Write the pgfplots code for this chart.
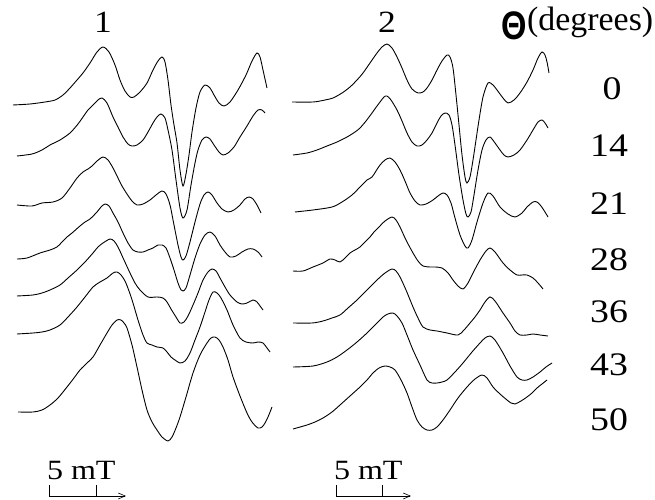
\documentclass[border=0pt]{standalone}
\usepackage{fontspec}
\setmainfont{Liberation Serif}
\newfontfamily\wide{Liberation Serif}[FakeStretch=1.15]
\newfontfamily\thetafont{Liberation Sans Bold}[FakeStretch=0.82]
\usepackage{pgfplots}
\pgfplotsset{compat=1.18}
\usetikzlibrary{arrows.meta}

\pgfplotsset{trace/.style={black,line width=0.9pt,smooth,tension=0.5,no markers}}

\begin{document}
\begin{tikzpicture}
\begin{axis}[width=655bp,height=500bp,scale only axis,
  xmin=0,xmax=655,ymin=0,ymax=500,y dir=reverse,
  hide axis,clip=false]
\addplot[draw=none] coordinates {(0,0) (655,500)};

% ---- panel 1 ----
% 0
\addplot[trace] coordinates {
(13,105) (30,104) (45,102) (55,100) (63,95) (70,88) (77,80) (83,73) (90,63) (97,52) (103,47)
(109,52) (115,65) (120,80) (125,91) (130,97) (134,97) (140,92) (147,83) (153,70) (158,61)
(162,57) (165,62) (168,80) (171,105) (174,125) (177,143) (180,170) (183,186) (186,174)
(189,155) (192,132) (196,108) (200,92) (205,85) (210,88) (214,95) (219,103) (224,106)
(230,102) (238,90) (246,75) (252,61) (257,53) (260,57) (263,70) (267,88)};
% 14
\addplot[trace] coordinates {
(17,156) (32,154) (42,150) (50,145) (60,140) (70,133) (78,124) (83,117) (88,110) (93,105)
(98,100) (102,98) (107,103) (113,117) (118,127) (123,137) (128,144) (132,146) (137,145)
(143,140) (148,132) (153,123) (157,117) (161,114) (165,118) (168,130) (172,150) (176,180)
(180,208) (183,218) (187,210) (191,185) (195,163) (198,150) (202,140) (206,137) (210,139)
(214,145) (219,152) (223,155) (228,153) (234,147) (240,137) (247,126) (253,116) (258,110)
(262,110) (265,113)};
% 21
\addplot[trace] coordinates {
(17,205) (32,206) (42,203) (53,202) (62,198) (70,188) (77,178) (83,172) (88,169) (92,166)
(97,161) (103,157) (108,160) (113,168) (118,178) (122,186) (127,194) (132,201) (137,205)
(143,204) (150,200) (156,195) (162,191) (166,194) (170,205) (174,225) (178,245) (181,257)
(183,260) (186,256) (190,242) (195,222) (200,204) (204,195) (208,192) (212,195) (217,203)
(222,209) (228,212) (234,210) (240,205) (245,199) (249,197) (253,199) (257,205) (261,213)};
% 28
\addplot[trace] coordinates {
(17,259) (27,258) (40,253) (50,250) (57,247) (62,242) (67,237) (72,233) (80,226) (85,222)
(90,219) (97,212) (101,207) (105,204) (109,206) (113,213) (118,222) (123,233) (128,243)
(133,250) (138,252) (143,252) (148,250) (153,248) (158,245) (162,245) (166,248) (170,258)
(174,270) (178,283) (181,290) (183,291) (186,288) (190,275) (195,258) (200,244) (205,235)
(210,232) (215,236) (220,245) (225,252) (230,257) (236,256) (242,252) (248,249) (253,249)
(258,252) (262,257)};
% 36
\addplot[trace] coordinates {
(17,296) (33,295) (42,293) (50,290) (60,285) (68,278) (77,270) (85,262) (93,253) (98,247)
(103,243) (110,239) (114,241) (118,247) (124,260) (130,273) (135,283) (140,290) (148,297)
(157,297) (163,298) (167,302) (171,309) (176,317) (180,323) (184,322) (188,316) (193,305)
(198,293) (203,280) (208,272) (212,269) (216,271) (220,278) (225,287) (230,295) (237,302)
(242,304) (247,303) (253,300) (257,302) (260,306) (263,310)};
% 43
\addplot[trace] coordinates {
(17,334) (33,333) (42,332) (50,330) (60,325) (68,317) (77,307) (85,297) (93,287) (100,282)
(107,278) (113,273) (117,272) (121,275) (125,281) (129,291) (133,303) (138,320) (143,335)
(147,343) (152,345) (157,347) (163,348) (167,352) (171,357) (175,360) (180,363) (185,361)
(190,353) (195,340) (200,327) (205,312) (209,300) (213,292) (217,293) (221,298) (227,310)
(233,325) (240,338) (246,342) (253,343) (258,342) (263,343) (267,348) (270,352)};
% 50
\addplot[trace] coordinates {
(18,412) (33,412) (42,410) (50,405) (58,398) (67,387) (74,378) (80,370) (87,363) (93,357)
(100,345) (107,333) (112,325) (117,320) (121,320) (124,323) (127,328) (132,345) (137,367)
(142,390) (147,410) (152,422) (157,430) (162,437) (168,441) (172,437) (176,428) (180,417)
(186,397) (193,373) (200,355) (207,343) (211,338) (215,337) (219,340) (223,347) (228,360)
(233,377) (240,396) (247,413) (252,422) (258,428) (262,427) (265,423) (268,417) (272,407)};

% ---- panel 2 ----
% 0
\addplot[trace] coordinates {
(292,102) (313,102) (325,100) (333,98) (342,93) (350,87) (357,80) (363,73) (370,63) (377,53)
(382,47) (387,44) (392,48) (397,57) (402,68) (407,80) (412,89) (418,93) (423,92) (427,88)
(432,80) (437,70) (442,61) (447,55) (450,57) (453,68) (456,95) (459,125) (462,155) (465,177)
(467,183) (470,177) (473,160) (476,140) (479,120) (483,97) (488,83) (493,85) (497,90)
(503,98) (508,103) (514,100) (520,93) (527,82) (533,70) (538,58) (542,52) (545,55) (547,62)
(549,73)};
% 14
\addplot[trace] coordinates {
(293,155) (307,153) (317,150) (327,146) (337,142) (347,137) (355,132) (360,128) (366,121)
(372,113) (377,106) (380,102) (384,97) (387,96) (391,100) (397,110) (402,121) (407,133)
(412,142) (417,146) (422,145) (427,140) (432,133) (437,123) (441,116) (445,113) (449,115)
(452,125) (455,145) (459,175) (463,200) (466,214) (468,217) (471,212) (474,195) (478,170)
(482,150) (486,140) (490,137) (495,143) (500,150) (504,155) (508,157) (514,155) (520,150)
(527,140) (533,130) (538,122) (542,120) (545,123) (548,128)};
% 21
\addplot[trace] coordinates {
(295,212) (313,210) (332,207) (342,202) (352,195) (360,187) (364,183) (367,180) (372,177)
(376,171) (380,165) (385,160) (390,158) (395,162) (400,170) (405,181) (410,193) (415,201)
(420,205) (426,204) (433,200) (438,196) (443,193) (447,195) (451,203) (455,218) (460,235)
(465,246) (468,248) (472,240) (477,222) (483,203) (488,193) (493,196) (500,207) (508,214)
(515,217) (522,213) (527,207) (533,202) (537,202) (541,206) (545,212) (548,217)};
% 28
\addplot[trace] coordinates {
(293,271) (303,271) (313,267) (323,263) (330,259) (335,260) (340,262) (345,258) (350,253)
(355,250) (360,247) (365,242) (370,237) (374,232) (378,228) (385,221) (392,217) (396,220)
(400,227) (406,240) (413,253) (418,261) (423,266) (430,267) (435,267) (442,268) (448,273)
(453,280) (458,286) (463,289) (468,283) (473,273) (480,260) (486,251) (490,248) (495,252)
(503,263) (510,270) (517,275) (522,275) (527,275) (533,278) (538,283) (543,289)};
% 36
\addplot[trace] coordinates {
(293,323) (312,323) (323,321) (332,318) (340,315) (348,308) (357,300) (367,290) (377,280)
(385,273) (392,269) (396,271) (400,277) (406,290) (413,307) (418,318) (423,327) (430,330)
(437,331) (447,333) (458,335) (464,330) (470,323) (475,317) (480,310) (485,302) (490,297)
(495,301) (503,313) (510,323) (515,331) (520,335) (527,335) (533,334) (540,335) (548,336)};
% 43
\addplot[trace] coordinates {
(293,367) (313,366) (327,362) (337,357) (347,350) (357,342) (367,333) (375,325) (383,317)
(388,314) (393,313) (397,316) (402,323) (407,335) (413,350) (420,365) (427,380) (432,383)
(437,383) (442,382) (447,380) (455,372) (463,363) (472,352) (480,343) (485,338) (490,336)
(495,340) (503,353) (510,366) (517,377) (522,380) (527,380) (533,377) (540,372) (546,367)
(552,363)};
% 50
\addplot[trace] coordinates {
(293,429) (307,425) (315,422) (323,418) (332,412) (340,405) (350,396) (360,387) (367,380)
(373,373) (379,368) (385,366) (390,367) (395,370) (401,380) (407,393) (412,407) (417,420)
(422,427) (427,430) (432,430) (437,427) (443,420) (450,410) (458,398) (467,387) (475,379)
(482,375) (487,378) (493,387) (500,394) (507,400) (511,403) (515,404) (521,401) (527,397)
(532,393) (537,388) (542,384) (547,380)};

% scale bars (5 mT)
\addplot[black,line width=0.6pt,-{Straight Barb[length=7pt,width=6pt]}] coordinates {(49,496) (126,496)};
\addplot[black,line width=0.6pt] coordinates {(49,485) (49,496)};
\addplot[black,line width=0.6pt] coordinates {(96,485) (96,496)};
\addplot[black,line width=0.6pt,-{Straight Barb[length=7pt,width=6pt]}] coordinates {(336,496) (411,496)};
\addplot[black,line width=0.6pt] coordinates {(336,485) (336,496)};
\addplot[black,line width=0.6pt] coordinates {(382,485) (382,496)};

% labels
\node[anchor=base,inner sep=0,font=\wide\fontsize{31}{34}\selectfont] at (axis cs:103,33) {1};
\node[anchor=base,inner sep=0,font=\wide\fontsize{31}{34}\selectfont] at (axis cs:387,33) {2};
\node[anchor=base west,inner sep=0,font=\wide\fontsize{28}{30}\selectfont] at (axis cs:47,480) {5\hspace{0.28em}mT};
\node[anchor=base west,inner sep=0,font=\wide\fontsize{28}{30}\selectfont] at (axis cs:334,480) {5\hspace{0.28em}mT};
\node[anchor=base,inner sep=0,font=\thetafont\fontsize{40}{42}\selectfont] at (axis cs:514,40) {Θ};
\node[anchor=base west,inner sep=0,font=\fontsize{34}{36}\selectfont] at (axis cs:527,31) {(degrees)};
\node[anchor=base,inner sep=0,font=\wide\fontsize{33}{35}\selectfont] at (axis cs:612,100) {0};
\node[anchor=base,inner sep=0,font=\wide\fontsize{33}{35}\selectfont] at (axis cs:609,157) {14};
\node[anchor=base,inner sep=0,font=\wide\fontsize{33}{35}\selectfont] at (axis cs:609,215) {21};
\node[anchor=base,inner sep=0,font=\wide\fontsize{33}{35}\selectfont] at (axis cs:609,271) {28};
\node[anchor=base,inner sep=0,font=\wide\fontsize{33}{35}\selectfont] at (axis cs:609,323) {36};
\node[anchor=base,inner sep=0,font=\wide\fontsize{33}{35}\selectfont] at (axis cs:609,376) {43};
\node[anchor=base,inner sep=0,font=\wide\fontsize{33}{35}\selectfont] at (axis cs:609,431) {50};
\end{axis}
\end{tikzpicture}
\end{document}
